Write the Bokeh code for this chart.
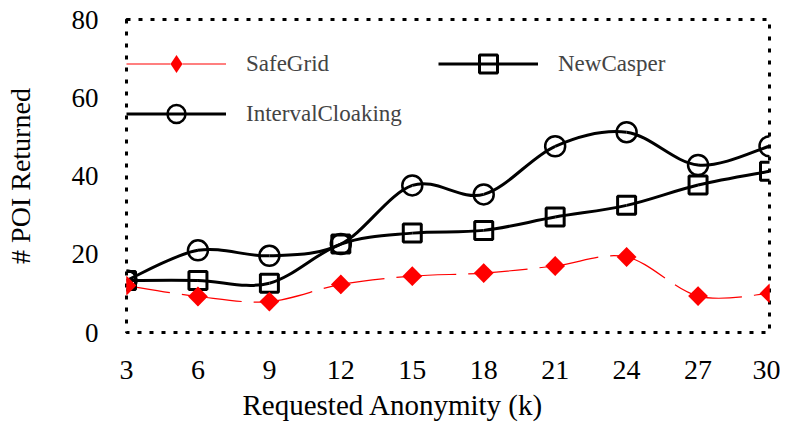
import numpy as np
from bokeh.plotting import figure
from bokeh.models import Legend, LegendItem, Title, FixedTicker, Range1d
from bokeh.embed import file_html
from bokeh.resources import INLINE

k = [3, 6, 9, 12, 15, 18, 21, 24, 27, 30]
safegrid = [12.0, 9.2, 7.9, 12.3, 14.4, 15.2, 17.0, 19.3, 9.3, 10.0]
newcasper = [13.3, 13.3, 12.6, 22.6, 25.4, 26.1, 29.5, 32.5, 37.7, 41.2]
interval = [13.3, 21.0, 19.6, 22.6, 37.6, 35.3, 47.6, 51.2, 42.8, 47.6]
y_ticks = [0, 20, 40, 60, 80]

FONT = "Liberation Serif"


def bezier_segments(x, y):
    x = np.asarray(x, float)
    y = np.asarray(y, float)
    n = len(x)
    xp = np.concatenate([[x[0]], x, [x[-1]]])
    yp = np.concatenate([[y[0]], y, [y[-1]]])
    p0x, p1x, p2x, p3x = xp[0:n - 1], xp[1:n], xp[2:n + 1], xp[3:n + 2]
    p0y, p1y, p2y, p3y = yp[0:n - 1], yp[1:n], yp[2:n + 1], yp[3:n + 2]
    return dict(
        x0=p1x, y0=p1y, x1=p2x, y1=p2y,
        cx0=p1x + (p2x - p0x) / 6, cy0=p1y + (p2y - p0y) / 6,
        cx1=p2x - (p3x - p1x) / 6, cy1=p2y - (p3y - p1y) / 6,
    )


p = figure(width=780, height=428, output_backend="svg", toolbar_location=None,
           x_range=Range1d(3, 30), y_range=Range1d(0, 80),
           min_border_left=126, min_border_right=11, min_border_top=19, min_border_bottom=96)

p.outline_line_color = "black"
p.outline_line_width = 3
p.outline_line_dash = "4 8"
p.xgrid.visible = False
p.ygrid.visible = False

for ax in (p.xaxis[0], p.yaxis[0]):
    ax.axis_line_color = None
    ax.major_tick_line_color = None
    ax.minor_tick_line_color = None
    ax.major_label_text_font = FONT
    ax.major_label_text_color = "black"
    ax.axis_label_text_font = FONT
    ax.axis_label_text_font_style = "normal"
    ax.axis_label_text_font_size = "28px"
    ax.axis_label_text_color = "black"

p.xaxis.major_label_text_font_size = "28px"
p.yaxis.major_label_text_font_size = "27px"
p.xaxis.ticker = FixedTicker(ticks=k)
p.yaxis.ticker = FixedTicker(ticks=y_ticks)
p.xaxis.major_label_standoff = 22
p.yaxis.major_label_standoff = 22
p.yaxis.axis_label = "# POI Returned"
p.yaxis.axis_label_standoff = 33

# curves
nc_seg = bezier_segments(k, newcasper)
ic_seg = bezier_segments(k, interval)
sg_seg = bezier_segments(k, safegrid)

r_nc_line = p.bezier(line_color="black", line_width=3, **nc_seg)
r_ic_line = p.bezier(line_color="black", line_width=3, **ic_seg)
r_sg_line = p.bezier(line_color="red", line_width=1.2, line_dash="44 12", **sg_seg)

r_nc_m = p.scatter(k, newcasper, marker="square", size=18, line_color="black",
                   line_width=3, fill_color=None)
r_ic_m = p.scatter(k, interval, marker="circle", size=20, line_color="black",
                   line_width=2.5, fill_color=None)
# diamond (used for the key) lies fully under the rotated square drawn on top
r_sg_key = p.scatter(k, safegrid, marker="diamond", size=19, line_color=None,
                     fill_color="red")
r_sg_m = p.scatter(k, safegrid, marker="square", angle=np.pi / 4, size=14,
                   line_color=None, fill_color="red")

legend = Legend(items=[
    LegendItem(label="SafeGrid", renderers=[r_sg_line, r_sg_key]),
    LegendItem(label="NewCasper", renderers=[r_nc_line, r_nc_m]),
    LegendItem(label="IntervalCloaking", renderers=[r_ic_line, r_ic_m]),
], orientation="horizontal", ncols=2)
legend.location = (0, 196)
legend.glyph_width = 100
legend.glyph_height = 45
legend.label_height = 25
legend.label_width = 187
legend.spacing = 5
legend.padding = 10
legend.label_standoff = 20
legend.label_text_font = FONT
legend.label_text_font_size = "23px"
legend.border_line_color = None
legend.background_fill_alpha = 0
p.add_layout(legend)

xlabel = Title(text="Requested Anonymity (k)", align="left", offset=116,
               text_font=FONT, text_font_size="29px", text_font_style="normal",
               text_color="black", standoff=10)
p.add_layout(xlabel, "below")

open("out.html", "w").write(file_html(p, INLINE))
